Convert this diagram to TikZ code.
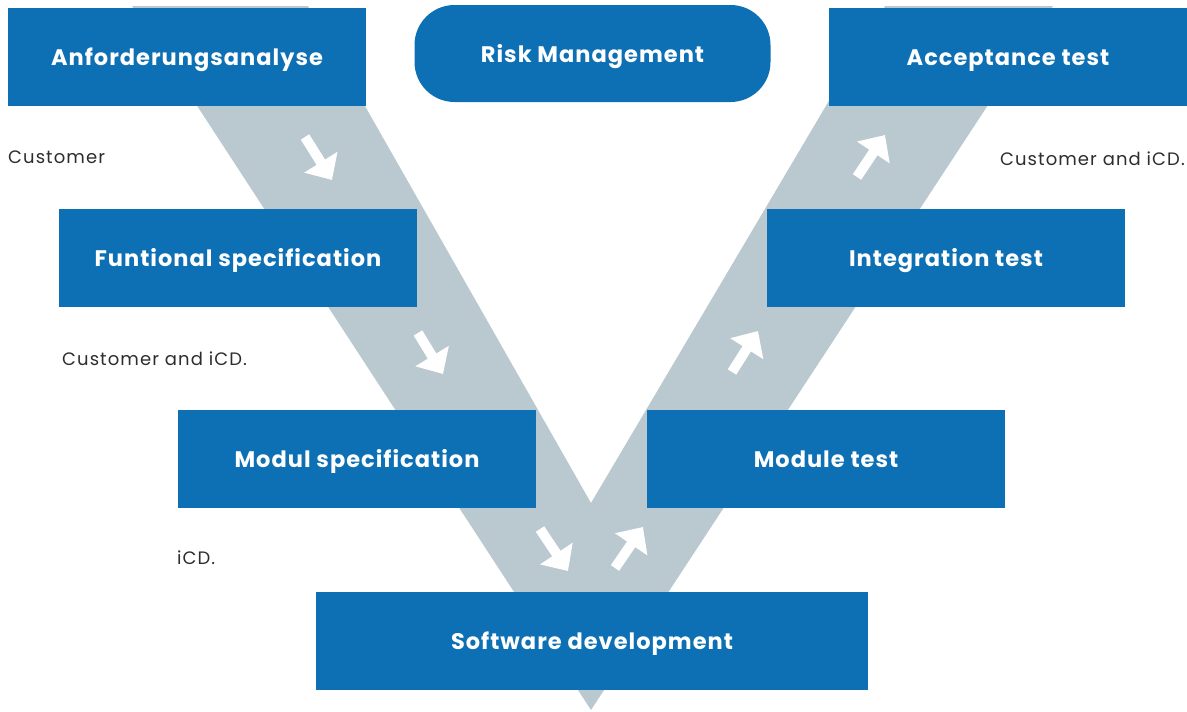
\documentclass[tikz,border=0pt]{standalone}
\usepackage{fontspec}
\setmainfont{Poppins}
\newfontfamily\stagefont{Poppins}[LetterSpace=4.5]
\newfontfamily\notefont{Poppins}[LetterSpace=6]
\usetikzlibrary{arrows.meta}
\definecolor{vblue}{RGB}{13,112,180}
\definecolor{vgray}{RGB}{186,200,208}
\definecolor{vtext}{RGB}{45,45,45}
\begin{document}
\begin{tikzpicture}[x=1pt,y=-1pt,
  stage/.style={fill=vblue, inner sep=0pt, minimum width=358pt, minimum height=98pt,
    text=white, text height=17pt, text depth=0pt,
    font=\stagefont\fontsize{22.5}{26}\selectfont\bfseries},
  note/.style={inner sep=0pt, text=vtext, text height=13pt, text depth=0pt,
    font=\notefont\fontsize{18}{21}\selectfont},
  flow/.style={draw=white, line width=10pt, -{Triangle[length=21pt, width=38pt]}}]
\useasboundingbox (0,0) rectangle (1187,712);
% V band
\fill[vgray] (132,6) -- (308,6) -- (591,503) -- (885,6) -- (1053,6) -- (591,710) -- cycle;
% stages
\node[stage] (anf) at (187,56.5) {Anforderungsanalyse};
\node[stage, minimum width=356pt, minimum height=97pt, rounded corners=40pt] (risk) at (592.5,53.5) {Risk Management};
\node[stage] (acc) at (1008,57) {Acceptance test};
\node[stage] (fun) at (238,258) {Funtional specification};
\node[stage] (integ) at (946,258) {Integration test};
\node[stage] (modul) at (357,458.5) {Modul specification};
\node[stage] (modt) at (826,458.5) {Module test};
\node[stage, minimum width=552pt] (soft) at (592,641) {Software development};
% notes
\node[note, anchor=west] (n1) at (8,157) {Customer};
\node[note, anchor=west] (n2) at (62,359) {Customer and iCD.};
\node[note, anchor=west] (n3) at (177,558) {iCD.};
\node[note, anchor=east] (n4) at (1185,159) {Customer and iCD.};
% arrows
\coordinate (a1s) at (305,137); \coordinate (a1e) at (332,180);
\coordinate (a2s) at (418,333); \coordinate (a2e) at (443,374);
\coordinate (a3s) at (540,529); \coordinate (a3e) at (568,571);
\coordinate (a4s) at (615,568); \coordinate (a4e) at (643,527);
\coordinate (a5s) at (732,372); \coordinate (a5e) at (758,331);
\coordinate (a6s) at (857,177); \coordinate (a6e) at (885,135);
\draw[flow] (a1s) -- (a1e);
\draw[flow] (a2s) -- (a2e);
\draw[flow] (a3s) -- (a3e);
\draw[flow] (a4s) -- (a4e);
\draw[flow] (a5s) -- (a5e);
\draw[flow] (a6s) -- (a6e);
\end{tikzpicture}
\end{document}
